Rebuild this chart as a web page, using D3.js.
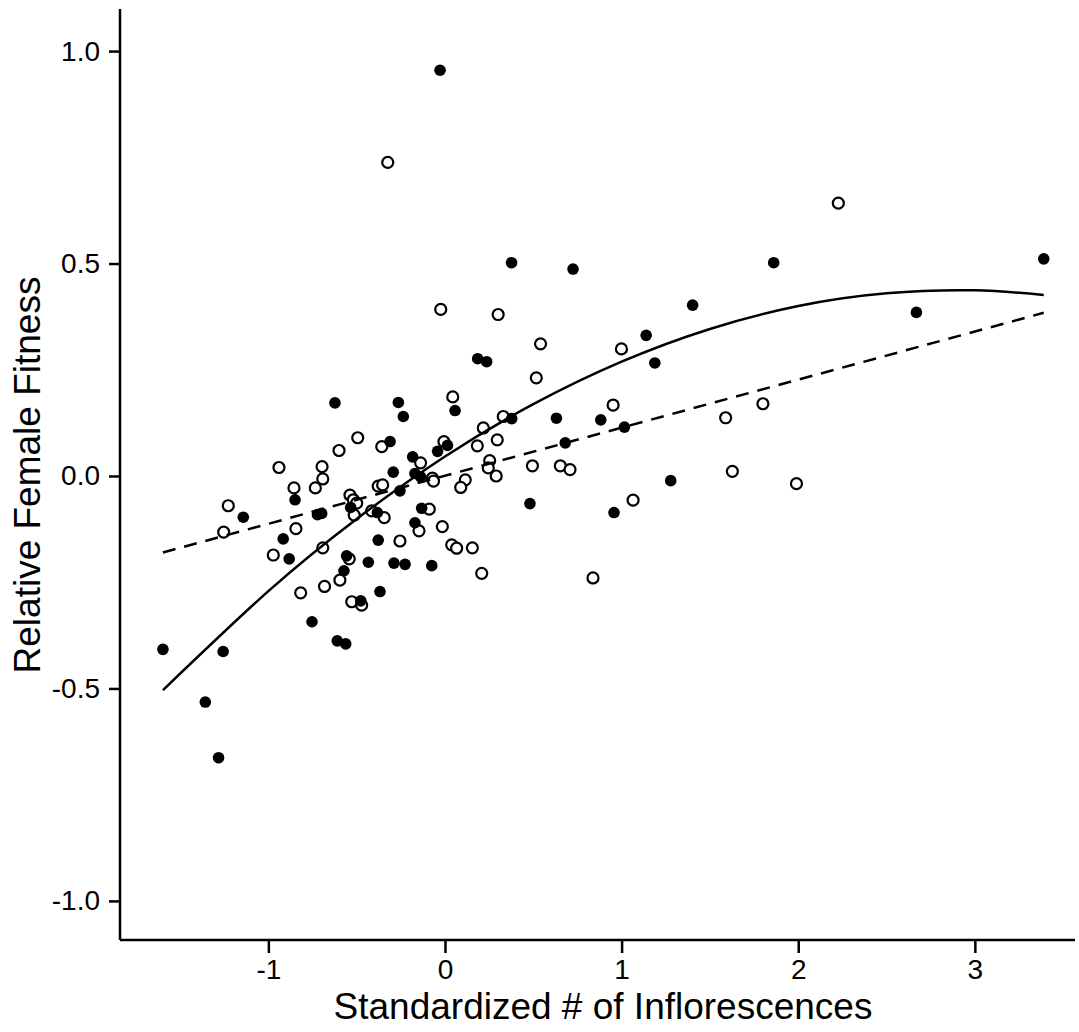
<!DOCTYPE html>
<html>
<head>
<meta charset="utf-8">
<script src="https://cdn.jsdelivr.net/npm/d3@7"></script>
<style>
  body { margin: 0; background: #fff; }
  svg { display: block; font-family: "Liberation Sans", Arial, sans-serif; }
</style>
</head>
<body>
<div id="chart"></div>
<script>
var width = 1079;
var height = 1032;

// filled circles  [x, y]
var filledPts = [
  [-0.028, 0.955], [0.377, 0.502], [0.725, 0.487], [1.861, 0.502], [3.390, 0.511],
  [1.402, 0.402], [2.669, 0.385], [1.139, 0.331], [0.185, 0.276], [0.236, 0.269],
  [1.188, 0.266], [-0.623, 0.172], [-0.264, 0.173], [0.057, 0.154], [-0.236, 0.140],
  [0.378, 0.135], [0.631, 0.136], [0.882, 0.132], [1.016, 0.115], [-0.311, 0.081],
  [0.014, 0.072], [-0.042, 0.058], [0.681, 0.078], [-0.183, 0.045], [-0.293, 0.009],
  [-0.170, 0.006], [-0.138, -0.002], [-0.849, -0.056], [-0.722, -0.091], [-0.698, -0.088],
  [-1.142, -0.097], [-0.255, -0.035], [-0.534, -0.074], [-0.383, -0.086], [-0.132, -0.076],
  [-0.916, -0.148], [-0.882, -0.195], [-0.170, -0.110], [-0.378, -0.151], [-0.557, -0.188],
  [-0.434, -0.203], [-0.289, -0.205], [-0.226, -0.208], [-0.075, -0.211], [-0.572, -0.223],
  [-0.368, -0.272], [-0.477, -0.294], [-0.753, -0.343], [-0.610, -0.388], [-0.562, -0.395],
  [-1.597, -0.408], [-1.256, -0.413], [-1.357, -0.532], [-1.282, -0.663], [1.278, -0.011],
  [0.481, -0.065], [0.957, -0.086]
];

// open circles  [x, y]
var openPts = [
  [-0.324, 0.738], [2.227, 0.642], [-0.024, 0.392], [0.301, 0.380], [0.541, 0.311],
  [0.999, 0.299], [0.517, 0.231], [0.044, 0.186], [0.952, 0.167], [1.800, 0.170],
  [1.589, 0.137], [0.330, 0.140], [0.217, 0.113], [-0.494, 0.090], [-0.358, 0.069],
  [-0.006, 0.081], [0.296, 0.085], [0.183, 0.071], [-0.600, 0.060], [-0.138, 0.031],
  [-0.940, 0.020], [-0.696, 0.022], [-0.692, -0.007], [-0.855, -0.028], [-0.734, -0.028],
  [0.253, 0.036], [0.245, 0.019], [0.290, 0.000], [-0.071, -0.005], [-0.065, -0.012],
  [0.115, -0.009], [0.089, -0.027], [0.495, 0.024], [0.653, 0.024], [0.708, 0.015],
  [1.627, 0.011], [1.990, -0.018], [-0.378, -0.024], [-0.353, -0.021], [-0.538, -0.045],
  [-0.519, -0.056], [-0.500, -0.064], [-0.514, -0.092], [-0.415, -0.082], [-0.344, -0.098],
  [-0.089, -0.078], [-1.227, -0.070], [-1.253, -0.132], [-0.844, -0.124], [-0.147, -0.129],
  [-0.015, -0.119], [-0.255, -0.153], [0.038, -0.162], [0.066, -0.170], [0.155, -0.169],
  [-0.692, -0.169], [-0.972, -0.186], [-0.542, -0.195], [-0.595, -0.245], [-0.682, -0.260],
  [-0.817, -0.275], [-0.528, -0.296], [-0.472, -0.304], [0.208, -0.229], [0.838, -0.240],
  [1.065, -0.057]
];

// fitted curves
var quadFit = [
  [-1.597, -0.504], [-1.0, -0.271], [-0.5, -0.101], [0, 0.046], [0.5, 0.169],
  [1.0, 0.269], [1.5, 0.346], [2.0, 0.400], [2.5, 0.430], [3.0, 0.437], [3.39, 0.426]
];
var linFit = [[-1.597, -0.180], [3.390, 0.384]];

var xTicks = [-1, 0, 1, 2, 3];
var yTicks = [1.0, 0.5, 0.0, -0.5, -1.0];

var xTitle = "Standardized # of Inflorescences";
var yTitle = "Relative Female Fitness";

var plotLeft = 120, plotRight = 1075, plotTop = 9, plotBottom = 940;

var svg = d3.select("#chart").append("svg")
    .attr("width", width)
    .attr("height", height);

var x = d3.scaleLinear().domain([-1.840, 3.567]).range([plotLeft, plotRight]);
var y = d3.scaleLinear().domain([-1.092, 1.099]).range([plotBottom, plotTop]);

var xAxis = svg.append("g")
    .attr("transform", "translate(0," + plotBottom + ")")
    .call(d3.axisBottom(x).tickValues(xTicks).tickSize(13).tickPadding(6)
        .tickFormat(d3.format("d")));

var yAxis = svg.append("g")
    .attr("transform", "translate(" + plotLeft + ",0)")
    .call(d3.axisLeft(y).tickValues(yTicks).tickSize(11).tickPadding(9)
        .tickFormat(d3.format(".1f")));

[xAxis, yAxis].forEach(function(g) {
    g.attr("font-size", null).attr("font-family", null);
    g.select(".domain").attr("stroke", "#000").attr("stroke-width", 2.5);
    g.selectAll(".tick line").attr("stroke", "#000").attr("stroke-width", 2.5);
    g.selectAll(".tick text")
        .attr("fill", "#000")
        .style("font-size", "28px")
        .text(function(d) { return d3.select(this).text().replace("\u2212", "-"); });
});

// plain axis lines, no outer ticks
xAxis.select(".domain").attr("d", "M" + plotLeft + ",0H" + plotRight);
yAxis.select(".domain").attr("d", "M0," + plotTop + "V" + plotBottom);

svg.append("g")
    .selectAll("circle")
    .data(openPts)
    .enter().append("circle")
    .attr("cx", function(d) { return x(d[0]); })
    .attr("cy", function(d) { return y(d[1]); })
    .attr("r", 5.5)
    .attr("fill", "#fff")
    .attr("stroke", "#000")
    .attr("stroke-width", 2.2);

svg.append("g")
    .selectAll("circle")
    .data(filledPts)
    .enter().append("circle")
    .attr("cx", function(d) { return x(d[0]); })
    .attr("cy", function(d) { return y(d[1]); })
    .attr("r", 5.8)
    .attr("fill", "#000");

var line = d3.line()
    .x(function(d) { return x(d[0]); })
    .y(function(d) { return y(d[1]); });

svg.append("path")
    .datum(linFit)
    .attr("d", line)
    .attr("fill", "none")
    .attr("stroke", "#000")
    .attr("stroke-width", 2.5)
    .attr("stroke-dasharray", "13,9");

svg.append("path")
    .datum(quadFit)
    .attr("d", line.curve(d3.curveNatural))
    .attr("fill", "none")
    .attr("stroke", "#000")
    .attr("stroke-width", 2.5);

svg.append("text")
    .attr("x", 603)
    .attr("y", 1019)
    .attr("text-anchor", "middle")
    .style("font-size", "37px")
    .text(xTitle);

svg.append("text")
    .attr("transform", "translate(40,475) rotate(-90)")
    .attr("text-anchor", "middle")
    .style("font-size", "37px")
    .text(yTitle);
</script>
</body>
</html>
